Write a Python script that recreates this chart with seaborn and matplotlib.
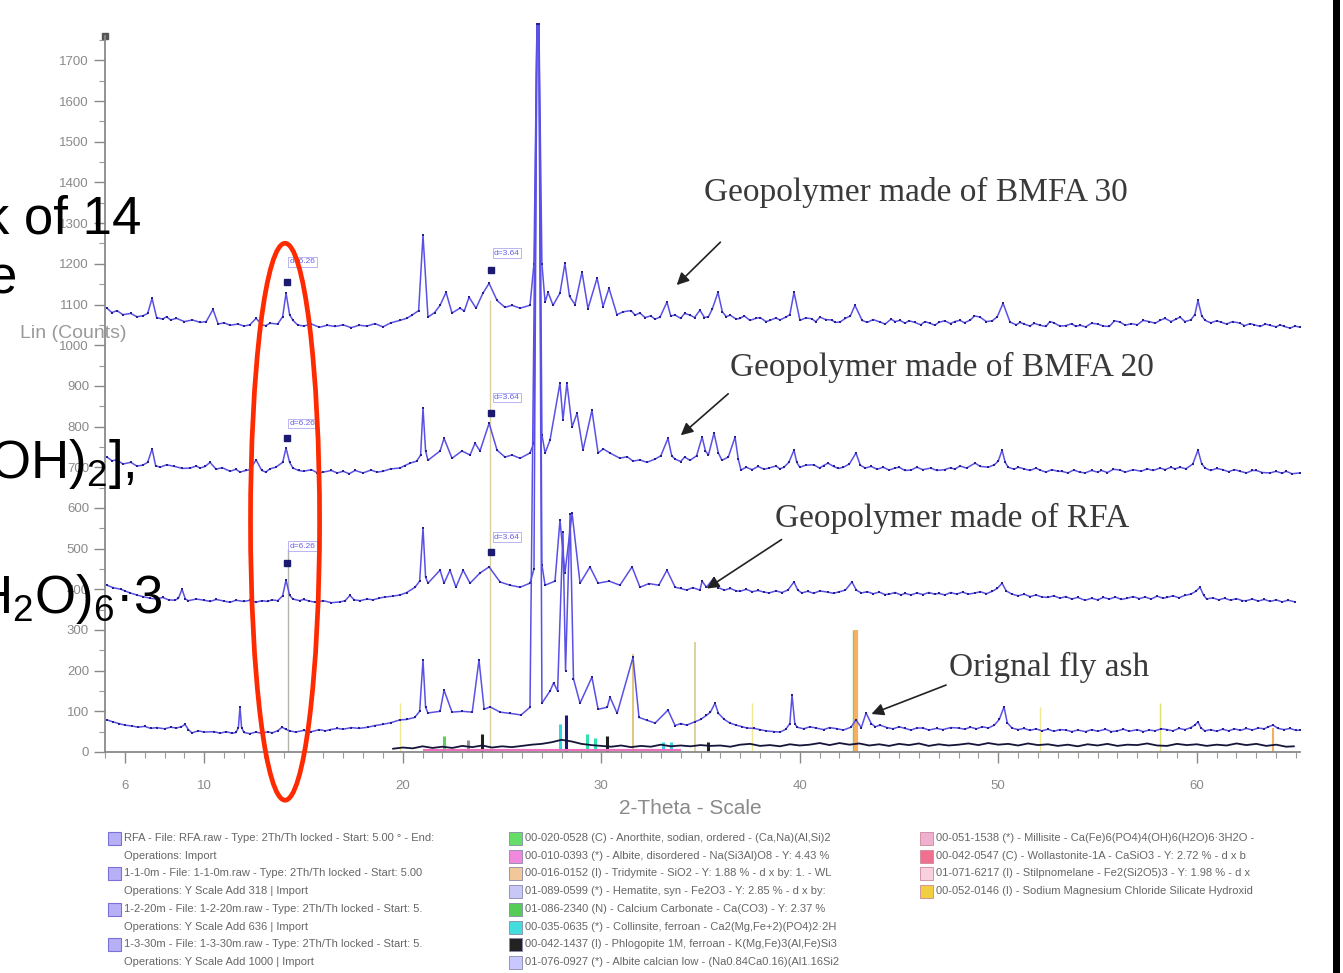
import pandas as pd
import matplotlib
matplotlib.use("Agg")
import matplotlib.pyplot as plt
import seaborn as sns
from matplotlib.patches import Ellipse, Rectangle

# --- XRD patterns: (2-theta [deg], Lin counts incl. Y offset) ---
bmfa30 = [(5.10, 1091), (5.35, 1080), (5.6, 1085), (5.9, 1075), (6.3, 1078), (6.6, 1070), (6.9, 1072),
          (7.15, 1078), (7.37, 1115), (7.6, 1068), (7.9, 1064), (8.1, 1070), (8.3, 1062), (8.6, 1066),
          (9.0, 1058), (9.4, 1062), (9.8, 1056), (10.1, 1058), (10.44, 1088), (10.7, 1052), (11.0, 1055),
          (11.3, 1049), (11.7, 1052), (12.0, 1047), (12.3, 1050), (12.61, 1066), (12.9, 1050), (13.1, 1048),
          (13.31, 1054), (13.7, 1052), (13.95, 1070), (14.12, 1128), (14.3, 1075), (14.47, 1061), (14.7, 1050),
          (15.0, 1047), (15.4, 1052), (15.8, 1044), (16.2, 1049), (16.6, 1046), (17.0, 1050), (17.4, 1043),
          (17.8, 1049), (18.2, 1047), (18.6, 1053), (19.0, 1045), (19.4, 1055), (19.86, 1061), (20.2, 1066),
          (20.47, 1074), (20.8, 1085), (21.02, 1270), (21.27, 1069), (21.6, 1080), (21.88, 1098), (22.18, 1130),
          (22.48, 1079), (22.88, 1091), (23.1, 1084), (23.34, 1118), (23.69, 1091), (24.04, 1128),
          (24.35, 1152), (24.75, 1110), (25.15, 1093), (25.5, 1098), (25.91, 1091), (26.41, 1098),
          (26.61, 1200), (26.76, 1790), (26.86, 1790), (27.01, 1200), (27.17, 1106), (27.32, 1130),
          (27.57, 1098), (27.92, 1128), (28.17, 1201), (28.4, 1120), (28.68, 1100), (29.03, 1180),
          (29.33, 1090), (29.79, 1165), (30.09, 1095), (30.39, 1140), (30.79, 1075), (31.1, 1082),
          (31.5, 1085), (31.7, 1074), (31.95, 1079), (32.2, 1068), (32.5, 1072), (32.7, 1064), (32.96, 1069),
          (33.31, 1106), (33.5, 1072), (33.72, 1074), (34.0, 1066), (34.2, 1078), (34.47, 1074), (34.7, 1068),
          (34.97, 1086), (35.2, 1068), (35.4, 1070), (35.6, 1090), (35.88, 1130), (36.1, 1082), (36.3, 1070),
          (36.49, 1074), (36.8, 1064), (37.0, 1066), (37.2, 1072), (37.49, 1061), (37.8, 1066), (38.0, 1068),
          (38.3, 1058), (38.5, 1061), (38.8, 1067), (39.0, 1062), (39.3, 1069), (39.5, 1075), (39.71, 1130),
          (40.01, 1061), (40.3, 1067), (40.6, 1065), (40.8, 1058), (41.02, 1069), (41.3, 1063), (41.6, 1062),
          (41.8, 1056), (42.03, 1057), (42.3, 1066), (42.55, 1072), (42.78, 1098), (43.14, 1061), (43.4, 1056),
          (43.7, 1063), (44.04, 1057), (44.3, 1052), (44.6, 1064), (44.8, 1058), (45.05, 1061), (45.3, 1054),
          (45.5, 1060), (45.8, 1056), (46.1, 1050), (46.3, 1058), (46.56, 1054), (46.8, 1049), (47.0, 1056),
          (47.3, 1060), (47.6, 1053), (47.8, 1058), (48.07, 1061), (48.3, 1055), (48.6, 1062), (48.8, 1072),
          (49.08, 1069), (49.4, 1058), (49.7, 1060), (49.95, 1070), (50.24, 1103), (50.59, 1057), (50.9, 1050),
          (51.1, 1056), (51.3, 1052), (51.6, 1047), (51.8, 1054), (52.1, 1049), (52.4, 1046), (52.6, 1058),
          (52.8, 1055), (53.1, 1047), (53.4, 1048), (53.7, 1053), (53.9, 1046), (54.12, 1049), (54.4, 1045),
          (54.7, 1054), (55.0, 1052), (55.3, 1047), (55.6, 1046), (55.85, 1060), (56.13, 1057), (56.4, 1049),
          (56.7, 1053), (57.0, 1050), (57.3, 1061), (57.6, 1058), (57.9, 1054), (58.15, 1061), (58.4, 1066),
          (58.7, 1058), (58.95, 1064), (59.16, 1069), (59.4, 1058), (59.7, 1062), (59.9, 1075), (60.06, 1110),
          (60.25, 1072), (60.42, 1061), (60.7, 1055), (61.0, 1060), (61.2, 1057), (61.5, 1052), (61.8, 1058),
          (62.18, 1054), (62.4, 1048), (62.7, 1053), (62.9, 1050), (63.2, 1046), (63.45, 1052), (63.69, 1049),
          (64.0, 1045), (64.2, 1050), (64.4, 1046), (64.7, 1042), (64.95, 1047), (65.2, 1044)]

bmfa20 = [(5.10, 725), (5.35, 716), (5.6, 718), (5.9, 708), (6.3, 712), (6.6, 703), (6.9, 705), (7.15, 712),
          (7.37, 745), (7.55, 704), (7.77, 700), (8.1, 706), (8.5, 702), (8.9, 697), (9.3, 698), (9.6, 703),
          (9.79, 698), (10.05, 702), (10.29, 712), (10.6, 695), (10.9, 699), (11.3, 690), (11.6, 695),
          (11.8, 688), (12.1, 692), (12.3, 694), (12.61, 718), (12.9, 692), (13.1, 688), (13.31, 696),
          (13.6, 700), (13.95, 712), (14.12, 747), (14.3, 712), (14.47, 698), (14.75, 692), (15.0, 690),
          (15.4, 694), (15.7, 686), (16.0, 688), (16.4, 692), (16.7, 686), (17.0, 690), (17.3, 684),
          (17.6, 692), (18.0, 686), (18.4, 693), (18.7, 688), (19.0, 690), (19.4, 696), (19.86, 698),
          (20.1, 704), (20.37, 710), (20.7, 715), (20.9, 730), (21.02, 845), (21.15, 740), (21.27, 717),
          (21.88, 740), (22.08, 771), (22.48, 722), (22.98, 740), (23.39, 730), (23.64, 759), (23.89, 740),
          (24.35, 808), (24.75, 742), (25.15, 725), (25.5, 730), (25.91, 722), (26.41, 735), (26.61, 760),
          (26.76, 1790), (26.86, 1790), (27.01, 780), (27.17, 735), (27.42, 767), (27.92, 907), (28.07, 816),
          (28.27, 907), (28.53, 799), (28.78, 833), (29.08, 742), (29.53, 840), (29.84, 735), (30.1, 745),
          (30.44, 735), (30.94, 722), (31.3, 726), (31.6, 715), (31.95, 718), (32.3, 712), (32.71, 720),
          (33.0, 728), (33.36, 771), (33.55, 728), (33.72, 720), (34.0, 714), (34.2, 725), (34.47, 717),
          (34.8, 728), (35.08, 774), (35.25, 740), (35.4, 730), (35.68, 784), (35.9, 735), (36.08, 717),
          (36.4, 725), (36.74, 774), (36.9, 720), (37.04, 693), (37.3, 700), (37.6, 694), (37.9, 702),
          (38.2, 695), (38.45, 698), (38.8, 703), (39.0, 696), (39.2, 700), (39.45, 712), (39.71, 742),
          (39.85, 712), (40.0, 700), (40.3, 705), (40.7, 706), (41.0, 698), (41.2, 704), (41.42, 710),
          (41.7, 702), (41.95, 697), (42.2, 700), (42.5, 708), (42.83, 735), (43.05, 705), (43.3, 698),
          (43.6, 702), (43.9, 695), (44.2, 700), (44.5, 693), (44.8, 698), (45.0, 700), (45.3, 692),
          (45.6, 693), (45.9, 700), (46.2, 694), (46.6, 698), (46.9, 692), (47.3, 694), (47.6, 699),
          (47.8, 695), (48.07, 703), (48.4, 698), (48.83, 710), (49.1, 702), (49.5, 700), (49.8, 706),
          (50.0, 715), (50.19, 742), (50.35, 712), (50.5, 700), (50.8, 695), (51.0, 700), (51.3, 696),
          (51.6, 692), (51.9, 698), (52.1, 693), (52.4, 688), (52.7, 694), (53.0, 690), (53.2, 690),
          (53.5, 686), (53.8, 693), (54.1, 688), (54.37, 686), (54.7, 692), (55.0, 688), (55.2, 692),
          (55.5, 687), (55.8, 695), (56.13, 693), (56.4, 688), (56.8, 694), (57.2, 690), (57.5, 696),
          (57.8, 692), (58.15, 698), (58.4, 694), (58.7, 700), (58.9, 696), (59.16, 700), (59.45, 696),
          (59.8, 708), (60.06, 742), (60.25, 708), (60.42, 698), (60.7, 692), (61.0, 697), (61.3, 694),
          (61.6, 689), (61.9, 694), (62.18, 690), (62.5, 686), (62.8, 692), (63.0, 692), (63.3, 687),
          (63.69, 686), (64.0, 690), (64.3, 685), (64.5, 690), (64.8, 684), (65.2, 686)]

rfa_geo = [(5.10, 410), (5.4, 404), (5.8, 400), (6.0, 396), (6.26, 391), (6.6, 386), (6.9, 382), (7.27, 378),
           (7.6, 376), (7.9, 380), (8.2, 374), (8.53, 373), (8.7, 378), (8.88, 400), (9.05, 376), (9.2, 372),
           (9.6, 376), (10.0, 373), (10.3, 370), (10.6, 375), (11.0, 371), (11.3, 368), (11.6, 373),
           (12.0, 370), (12.3, 373), (12.6, 368), (12.9, 372), (13.2, 370), (13.4, 374), (13.7, 372),
           (13.95, 384), (14.12, 423), (14.3, 385), (14.47, 376), (14.8, 372), (15.0, 375), (15.3, 371),
           (15.6, 368), (16.0, 372), (16.4, 367), (16.84, 369), (17.1, 372), (17.34, 385), (17.55, 374),
           (17.85, 372), (18.2, 376), (18.5, 374), (18.8, 378), (19.1, 381), (19.5, 383), (19.86, 386),
           (20.2, 392), (20.62, 405), (20.85, 420), (21.02, 550), (21.15, 430), (21.27, 415), (21.88, 447),
           (22.08, 415), (22.38, 447), (22.68, 405), (23.04, 447), (23.39, 415), (23.89, 440), (24.35, 455),
           (24.9, 418), (25.4, 410), (25.91, 405), (26.41, 415), (26.61, 450), (26.76, 1790), (26.86, 1790),
           (27.01, 460), (27.17, 410), (27.67, 420), (27.92, 570), (28.17, 440), (28.53, 587), (28.93, 415),
           (29.43, 455), (29.84, 415), (30.4, 420), (30.94, 410), (31.55, 455), (31.95, 405), (32.4, 414),
           (32.9, 410), (33.31, 447), (33.72, 405), (34.0, 402), (34.3, 398), (34.6, 404), (34.97, 398),
           (35.08, 420), (35.3, 405), (35.68, 428), (35.9, 404), (36.2, 398), (36.5, 402), (36.8, 396),
           (37.0, 395), (37.3, 400), (37.6, 394), (37.9, 397), (38.2, 393), (38.45, 391), (38.8, 396),
           (39.1, 392), (39.4, 398), (39.71, 418), (39.9, 398), (40.1, 391), (40.4, 395), (40.7, 390),
           (41.0, 396), (41.4, 393), (41.7, 390), (42.0, 394), (42.3, 398), (42.63, 418), (42.85, 398),
           (43.1, 391), (43.4, 394), (43.7, 389), (44.0, 393), (44.3, 387), (44.5, 388), (44.8, 392),
           (45.1, 386), (45.3, 390), (45.6, 386), (45.9, 391), (46.2, 387), (46.5, 392), (46.8, 388),
           (47.0, 390), (47.3, 386), (47.6, 392), (47.9, 388), (48.2, 393), (48.5, 388), (48.83, 391),
           (49.1, 394), (49.4, 389), (49.7, 395), (49.95, 402), (50.19, 415), (50.4, 396), (50.69, 388),
           (51.0, 384), (51.3, 388), (51.6, 382), (51.9, 386), (52.2, 381), (52.5, 380), (52.8, 384),
           (53.1, 378), (53.4, 382), (53.7, 376), (54.0, 380), (54.37, 373), (54.7, 378), (55.0, 374),
           (55.3, 380), (55.6, 376), (55.9, 381), (56.2, 375), (56.5, 378), (56.8, 382), (57.1, 377),
           (57.4, 381), (57.7, 376), (58.0, 383), (58.3, 378), (58.5, 380), (58.8, 384), (59.1, 379),
           (59.4, 385), (59.7, 388), (59.95, 395), (60.16, 405), (60.35, 385), (60.5, 376), (60.8, 379),
           (61.1, 374), (61.4, 378), (61.7, 373), (62.0, 377), (62.3, 372), (62.5, 372), (62.8, 376),
           (63.1, 371), (63.4, 375), (63.7, 370), (64.0, 374), (64.3, 369), (64.6, 373), (64.95, 369)]

fly_ash = [(5.10, 79), (5.4, 74), (5.7, 70), (6.0, 66), (6.35, 64), (6.66, 61), (7.0, 63), (7.3, 58),
           (7.6, 60), (8.0, 57), (8.3, 61), (8.6, 59), (8.85, 62), (9.03, 68), (9.2, 55), (9.38, 47),
           (9.7, 52), (10.0, 49), (10.5, 50), (10.8, 46), (11.1, 50), (11.4, 46), (11.6, 48), (11.72, 60),
           (11.80, 111), (11.88, 60), (12.0, 48), (12.3, 45), (12.6, 49), (12.9, 46), (13.2, 50), (13.41, 47),
           (13.7, 52), (13.92, 61), (14.1, 56), (14.3, 52), (14.6, 49), (15.0, 53), (15.4, 50), (15.8, 55),
           (16.1, 52), (16.34, 55), (16.7, 58), (17.0, 56), (17.4, 60), (17.8, 58), (18.25, 61), (18.6, 65),
           (19.0, 68), (19.4, 72), (19.86, 79), (20.2, 80), (20.6, 85), (20.85, 100), (21.02, 226),
           (21.15, 110), (21.27, 96), (21.88, 100), (22.08, 152), (22.48, 98), (23.0, 100), (23.5, 98),
           (23.84, 226), (24.1, 105), (24.40, 111), (24.9, 98), (25.4, 95), (25.96, 91), (26.41, 110),
           (26.76, 1790), (26.86, 1790), (27.01, 120), (27.42, 150), (27.6, 170), (27.8, 150), (28.07, 540),
           (28.2, 200), (28.43, 585), (28.6, 180), (28.93, 120), (29.53, 184), (29.84, 105), (30.3, 110),
           (30.44, 135), (30.8, 95), (31.60, 233), (31.9, 85), (32.3, 78), (32.71, 71), (33.36, 103),
           (33.72, 65), (34.0, 70), (34.3, 66), (34.7, 74), (35.0, 80), (35.3, 90), (35.5, 98), (35.73, 120),
           (35.9, 95), (36.2, 80), (36.49, 71), (36.8, 66), (37.1, 62), (37.34, 59), (37.7, 58), (38.0, 55),
           (38.3, 52), (38.7, 50), (39.01, 49), (39.3, 56), (39.5, 70), (39.61, 140), (39.75, 70),
           (39.86, 61), (40.2, 57), (40.5, 62), (40.82, 59), (41.2, 55), (41.5, 60), (41.9, 57), (42.2, 54),
           (42.58, 61), (42.83, 79), (43.1, 60), (43.34, 96), (43.6, 70), (43.8, 62), (44.04, 66), (44.4, 60),
           (44.7, 57), (45.0, 62), (45.3, 58), (45.6, 54), (45.9, 59), (46.21, 59), (46.5, 54), (46.9, 58),
           (47.2, 55), (47.6, 60), (48.0, 59), (48.3, 56), (48.6, 61), (48.9, 57), (49.2, 62), (49.5, 59),
           (49.8, 66), (50.05, 80), (50.29, 111), (50.45, 72), (50.69, 59), (51.0, 55), (51.3, 58), (51.6, 53),
           (51.9, 57), (52.2, 52), (52.5, 56), (52.8, 51), (53.1, 55), (53.41, 54), (53.7, 50), (54.0, 54),
           (54.4, 50), (54.7, 55), (55.0, 51), (55.4, 56), (55.7, 50), (56.0, 52), (56.3, 56), (56.6, 51),
           (57.0, 55), (57.3, 50), (57.6, 54), (57.9, 52), (58.2, 57), (58.5, 55), (58.8, 52), (59.1, 58),
           (59.4, 55), (59.7, 60), (59.9, 66), (60.06, 74), (60.2, 60), (60.4, 52), (60.7, 55), (61.0, 51),
           (61.3, 56), (61.6, 52), (61.9, 57), (62.2, 53), (62.5, 58), (62.8, 54), (63.1, 59), (63.4, 57),
           (63.6, 62), (63.84, 66), (64.1, 58), (64.4, 55), (64.7, 58), (65.0, 53), (65.2, 54)]

# dark bottom line (background / difference curve)
bg_line = [(19.5, 8), (20.0, 11), (20.5, 9), (21.0, 14), (21.5, 10), (22.0, 13), (22.5, 10), (23.0, 15),
           (23.5, 12), (24.0, 16), (24.5, 11), (25.0, 14), (25.5, 12), (26.0, 15), (26.5, 18), (27.0, 20),
           (27.5, 24), (28.0, 30), (28.5, 26), (29.0, 20), (29.5, 17), (30.0, 15), (30.5, 13), (31.0, 16),
           (31.5, 12), (32.0, 15), (32.5, 13), (33.0, 18), (33.5, 14), (34.0, 16), (34.5, 14), (35.0, 17),
           (35.5, 15), (36.0, 16), (36.5, 13), (37.0, 18), (37.5, 20), (38.0, 15), (38.5, 17), (39.0, 14),
           (39.5, 19), (40.0, 16), (40.5, 18), (41.0, 22), (41.5, 17), (42.0, 22), (42.5, 18), (43.0, 21),
           (43.5, 16), (44.0, 19), (44.5, 15), (45.0, 20), (45.5, 17), (46.0, 21), (46.5, 15), (47.0, 19),
           (47.5, 16), (48.0, 18), (48.5, 21), (49.0, 17), (49.5, 22), (50.0, 18), (50.5, 20), (51.0, 16),
           (51.5, 21), (52.0, 17), (52.5, 19), (53.0, 15), (53.5, 18), (54.0, 14), (54.5, 19), (55.0, 16),
           (55.5, 20), (56.0, 15), (56.5, 18), (57.0, 17), (57.5, 21), (58.0, 16), (58.5, 15), (59.0, 20),
           (59.5, 17), (60.0, 19), (60.5, 15), (61.0, 18), (61.5, 16), (62.0, 21), (62.5, 17), (63.0, 20),
           (63.5, 15), (64.0, 18), (64.5, 13), (64.9, 14)]

# reference stick lines (position, height)
stick_pos = [14.22, 24.40, 19.86, 31.60, 34.72, 37.59, 42.68, 42.83, 52.10, 58.15, 63.84]
stick_top = [500, 1110, 120, 240, 270, 120, 300, 300, 110, 120, 60]
stick_col = ['#b4b4ac', '#d8d0a0', '#f0e890', '#d8c060', '#d8c890', '#f0e890',
             '#70d070', '#f5b060', '#f0e890', '#e0e070', '#f0b060']
stick_lw = [1, 1, 1, 1.2, 1.2, 1, 1, 3, 1, 1, 1.5]

# little phase markers at the bottom
phase_pos = [22.1, 23.3, 24.0, 27.9, 28.2, 29.3, 29.7, 30.3, 33.1, 33.5, 35.4]
phase_top = [40, 30, 45, 70, 90, 45, 35, 40, 25, 25, 25]
phase_col = ['#5ad05a', '#909090', '#202020', '#30d8e0', '#1a1a70', '#30e0b0',
             '#30e0b0', '#202020', '#40d0e0', '#40d0e0', '#202020']

# d-spacing markers: (2-theta, counts of dot, label y, label)
dmarks = [(14.15, 1155, 1205, "d=6.26"), (14.15, 771, 808, "d=6.26"), (14.15, 464, 506, "d=6.26"),
          (24.45, 1184, 1226, "d=3.64"), (24.45, 833, 872, "d=3.64"), (24.45, 491, 528, "d=3.64")]

# annotations: text, text pos, arrow tail, arrow tip
labels = [("Geopolymer made of BMFA 30", (35.2, 1376), (36.1, 1258), (33.7, 1143)),
          ("Geopolymer made of BMFA 20", (36.5, 946), (36.5, 885), (33.9, 774)),
          ("Geopolymer made of RFA", (38.75, 575), (39.2, 526), (35.2, 398)),
          ("Orignal fly ash", (47.5, 209), (47.5, 167), (43.48, 91))]

ytick_vals = list(range(0, 1800, 100))
xtick_vals = [6, 10, 20, 30, 40, 50, 60]

legend_left = ["RFA - File: RFA.raw - Type: 2Th/Th locked - Start: 5.00 ° - End:",
               "Operations: Import",
               "1-1-0m - File: 1-1-0m.raw - Type: 2Th/Th locked - Start: 5.00",
               "Operations: Y Scale Add 318 | Import",
               "1-2-20m - File: 1-2-20m.raw - Type: 2Th/Th locked - Start: 5.",
               "Operations: Y Scale Add 636 | Import",
               "1-3-30m - File: 1-3-30m.raw - Type: 2Th/Th locked - Start: 5.",
               "Operations: Y Scale Add 1000 | Import"]
legend_mid = ["00-020-0528 (C) - Anorthite, sodian, ordered - (Ca,Na)(Al,Si)2",
              "00-010-0393 (*) - Albite, disordered - Na(Si3Al)O8 - Y: 4.43 %",
              "00-016-0152 (I) - Tridymite - SiO2 - Y: 1.88 % - d x by: 1. - WL",
              "01-089-0599 (*) - Hematite, syn - Fe2O3 - Y: 2.85 % - d x by:",
              "01-086-2340 (N) - Calcium Carbonate - Ca(CO3) - Y: 2.37 %",
              "00-035-0635 (*) - Collinsite, ferroan - Ca2(Mg,Fe+2)(PO4)2·2H",
              "00-042-1437 (I) - Phlogopite 1M, ferroan - K(Mg,Fe)3(Al,Fe)Si3",
              "01-076-0927 (*) - Albite calcian low - (Na0.84Ca0.16)(Al1.16Si2"]
legend_right = ["00-051-1538 (*) - Millisite - Ca(Fe)6(PO4)4(OH)6(H2O)6·3H2O -",
                "00-042-0547 (C) - Wollastonite-1A - CaSiO3 - Y: 2.72 % - d x b",
                "01-071-6217 (I) - Stilpnomelane - Fe2(Si2O5)3 - Y: 1.98 % - d x",
                "00-052-0146 (I) - Sodium Magnesium Chloride Silicate Hydroxid"]
mid_icon_col = ['#66dd66', '#f088dd', '#f2c79a', '#c8c8f8', '#55cc55', '#44dddd', '#222222', '#c8c8ff']
right_icon_col = ['#f0b0d0', '#f07090', '#f8d0e0', '#f0d040']

# --- figure ---
sns.set_theme(style="white")
plt.rcParams['font.family'] = ['Liberation Sans', 'DejaVu Sans']
plt.rcParams['mathtext.fontset'] = 'custom'
plt.rcParams['mathtext.rm'] = 'Liberation Sans'

W, H = 1343, 973
fig = plt.figure(figsize=(W / 100, H / 100), dpi=100)
fig.patch.set_facecolor('white')
ax = fig.add_axes([105 / W, 1 - 752 / H, 1195 / W, 716 / H])
ax.set_facecolor('white')

# reference sticks first (behind traces)
for xp, top, col, lw in zip(stick_pos, stick_top, stick_col, stick_lw):
    ax.vlines(xp, 0, top, colors=col, lw=lw, zorder=1)
for xp, top, col in zip(phase_pos, phase_top, phase_col):
    ax.vlines(xp, 0, top, colors=col, lw=2.2, zorder=2)
ax.hlines(5, 21, 34, colors='#f070c0', lw=1.5, zorder=2)

trace_col = '#5a50e6'
for name, pts in [("BMFA30", bmfa30), ("BMFA20", bmfa20), ("RFA geo", rfa_geo), ("fly ash", fly_ash)]:
    df = pd.DataFrame(pts, columns=['tt', 'counts'])
    sns.lineplot(data=df, x='tt', y='counts', ax=ax, color=trace_col, lw=1.1,
                 marker='s', markersize=1.8, markeredgewidth=0, markerfacecolor='#24208e',
                 sort=False, estimator=None, clip_on=False, zorder=3)

bg = pd.DataFrame(bg_line, columns=['tt', 'counts'])
sns.lineplot(data=bg, x='tt', y='counts', ax=ax, color='#15153a', lw=1.3,
             sort=False, estimator=None, zorder=2)

# d-spacing markers
for xd, yd, yl, txt in dmarks:
    ax.plot(xd, yd, 's', color='#1c1a70', ms=4, zorder=4)
    ax.text(xd + 0.15, yl, txt, fontsize=6, color='#6a60e8', va='center', ha='left',
            bbox=dict(boxstyle='square,pad=0.15', fc='none', ec='#b0a8f0', lw=0.6), zorder=4)

# sample annotations
for txt, tpos, tail, tip in labels:
    ax.text(tpos[0], tpos[1], txt, family=['Liberation Serif', 'DejaVu Serif'], fontsize=24,
            color='#3a3a3a', va='center', ha='left', zorder=5)
    ax.annotate('', xy=tip, xytext=tail,
                arrowprops=dict(arrowstyle='-|>', color='#222222', lw=1.2, mutation_scale=18))

# red ellipse around the 14 deg peak
ax.add_patch(Ellipse((14.07, 566), 3.48, 1369, fill=False, ec='#ff2a00', lw=3.4,
                     clip_on=False, zorder=6))

# axes styling
ax.set_xlim(5.0, 65.2)
ax.set_ylim(0, 1760)
ax.set_xticks(xtick_vals)
ax.set_xticks(range(5, 66), minor=True)
ax.set_yticks(ytick_vals)
ax.set_yticks(range(50, 1760, 100), minor=True)
ax.tick_params(axis='both', which='major', direction='out', length=8, width=1,
               color='#8a8a8a', labelcolor='#8a8a8a', labelsize=9.5, left=True, bottom=True)
ax.tick_params(axis='both', which='minor', direction='out', length=4, width=0.8,
               color='#9a9a9a', left=True, bottom=True)
ax.tick_params(axis='x', which='major', pad=12)
for side in ['top', 'right']:
    ax.spines[side].set_visible(False)
for side in ['left', 'bottom']:
    ax.spines[side].set_color('#8a8a8a')
    ax.spines[side].set_linewidth(1.3)
ax.set_xlabel('')
ax.set_ylabel('')
ax.plot([0], [1], 's', transform=ax.transAxes, color='#555555', ms=4, clip_on=False)

fig.text(20 / W, 1 - 333 / H, "Lin (Counts)", fontsize=14, color='#9a9a9a', ha='left', va='center')
fig.text(690 / W, 1 - 808 / H, "2-Theta - Scale", fontsize=15, color='#8a8a8a', ha='center', va='center')

# overlaid slide text (cut off at the left)
slide_kw = dict(fontsize=38, color='black', ha='right', va='baseline')
fig.text(141 / W, 1 - 234 / H, "k of 14", **slide_kw)
fig.text(17 / W, 1 - 293 / H, "e", **slide_kw)
fig.text(135 / W, 1 - 478 / H, r"OH)$_\mathregular{2}$],", **slide_kw)
fig.text(162 / W, 1 - 613 / H, r"H$_\mathregular{2}$O)$_\mathregular{6}$·3", **slide_kw)

# legend block at the bottom
row_y = [838, 856, 873, 891, 909, 927, 944, 962]
for i, (ry, txt) in enumerate(zip(row_y, legend_left)):
    if i % 2 == 0:
        fig.add_artist(Rectangle((108 / W, 1 - (ry + 7) / H), 13 / W, 13 / H, fc='#b8b0f4',
                                 ec='#7a70d8', lw=0.8, transform=fig.transFigure))
    fig.text(124 / W, 1 - ry / H, txt, fontsize=8, color='#666666', ha='left', va='center')
for ry, txt, col in zip(row_y, legend_mid, mid_icon_col):
    fig.add_artist(Rectangle((509 / W, 1 - (ry + 7) / H), 13 / W, 13 / H, fc=col,
                             ec='#8888aa', lw=0.6, transform=fig.transFigure))
    fig.text(525 / W, 1 - ry / H, txt, fontsize=8, color='#666666', ha='left', va='center')
for ry, txt, col in zip(row_y[:4], legend_right, right_icon_col):
    fig.add_artist(Rectangle((920 / W, 1 - (ry + 7) / H), 13 / W, 13 / H, fc=col,
                             ec='#cc8899', lw=0.6, transform=fig.transFigure))
    fig.text(936 / W, 1 - ry / H, txt, fontsize=8, color='#666666', ha='left', va='center')

# dark border on the right edge of the screenshot
fig.add_artist(Rectangle((1333 / W, 0), 7 / W, 1, fc='black', ec='none', transform=fig.transFigure))

fig.savefig('out.png', dpi=100, facecolor='white')
